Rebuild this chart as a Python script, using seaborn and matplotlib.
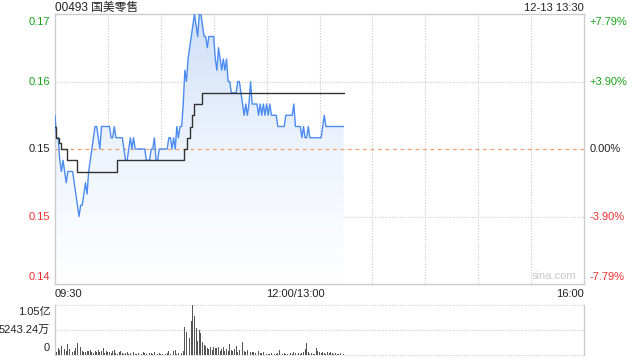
import numpy as np
import pandas as pd
import matplotlib
matplotlib.use("Agg")
import matplotlib.pyplot as plt
import matplotlib.transforms as mtransforms
from matplotlib.colors import LinearSegmentedColormap
import seaborn as sns

# ---------------- data ----------------
title = "00493 国美零售"
stamp = "12-13 13:30"
prev_close = 0.154

price = [
    0.157, 0.155, 0.155, 0.153, 0.152, 0.153, 0.152, 0.151, 0.152, 0.152,
    0.152, 0.152, 0.151, 0.150, 0.149, 0.148, 0.149, 0.149, 0.150, 0.151,
    0.150, 0.152, 0.153, 0.154, 0.155, 0.156, 0.156, 0.155, 0.154, 0.156,
    0.156, 0.156, 0.156, 0.156, 0.156, 0.155, 0.155, 0.156, 0.155, 0.155,
    0.155, 0.155, 0.155, 0.154, 0.153, 0.153, 0.154, 0.155, 0.154, 0.155,
    0.154, 0.154, 0.154, 0.154, 0.154, 0.154, 0.154, 0.153, 0.153, 0.153,
    0.154, 0.154, 0.155, 0.153, 0.153, 0.154, 0.154, 0.154, 0.154, 0.154,
    0.154, 0.155, 0.155, 0.154, 0.155, 0.154, 0.156, 0.155, 0.156, 0.156,
    0.158, 0.161, 0.160, 0.162, 0.163, 0.164, 0.165, 0.166, 0.165, 0.164,
    0.166, 0.166, 0.165, 0.164, 0.164, 0.163, 0.164, 0.164, 0.164, 0.164,
    0.162, 0.161, 0.163, 0.162, 0.161, 0.162, 0.161, 0.162, 0.160, 0.160,
    0.159, 0.159, 0.159, 0.159, 0.160, 0.160, 0.159, 0.158, 0.157, 0.158,
    0.157, 0.158, 0.160, 0.158, 0.158, 0.158, 0.158, 0.157, 0.158, 0.157,
    0.158, 0.157, 0.158, 0.157, 0.158, 0.157, 0.157, 0.157, 0.157, 0.156,
    0.156, 0.156, 0.156, 0.156, 0.157, 0.157, 0.157, 0.157, 0.157, 0.158,
    0.156, 0.156, 0.156, 0.156, 0.155, 0.156, 0.155, 0.155, 0.156, 0.155,
    0.155, 0.155, 0.155, 0.155, 0.155, 0.155, 0.155, 0.156, 0.157, 0.156,
    0.156, 0.156, 0.156, 0.156, 0.156, 0.156, 0.156, 0.156, 0.156, 0.156,
    0.156,
]

avg_price = (
    [0.156, 0.155, 0.155, 0.1545, 0.154, 0.154, 0.154, 0.154]
    + [0.153] * 6
    + [0.152] * 25
    + [0.153] * 41
    + [0.153, 0.154, 0.154, 0.155, 0.155, 0.156, 0.157, 0.158, 0.158, 0.158, 0.158, 0.158]
    + [0.159] * 89
)

# volume per minute, in 万 shares
volume = [
    2100, 700, 1500, 1100, 1800, 1000, 1200, 900, 2400, 1300,
    1400, 700, 900, 1500, 2600, 2000, 1700, 900, 600, 700,
    800, 900, 1000, 600, 500, 800, 700, 1100, 600, 900,
    1400, 500, 900, 700, 600, 500, 800, 1000, 400, 300,
    700, 900, 400, 300, 500, 600, 300, 500, 400, 600,
    300, 200, 500, 400, 300, 600, 400, 200, 300, 500,
    400, 300, 600, 200, 300, 400, 300, 200, 500, 300,
    400, 800, 300, 500, 900, 1000, 200, 400, 1100, 500,
    800, 5900, 4800, 5200, 3600, 7200, 10486, 8100, 5600, 3000,
    5300, 4600, 2800, 2100, 1800, 1500, 1200, 1600, 1000, 1700,
    1400, 1500, 1700, 900, 1300, 1700, 800, 1200, 900, 2400,
    1000, 800, 1300, 1900, 700, 1100, 1500, 2800, 900, 700,
    1000, 800, 700, 600, 700, 500, 600, 800, 500, 400,
    600, 300, 200, 300, 200, 400, 300, 200, 300, 400,
    1100, 500, 300, 400, 200, 300, 500, 400, 300, 600,
    400, 300, 500, 200, 400, 600, 1300, 2600, 700, 300,
    400, 200, 300, 1400, 800, 600, 500, 700, 400, 300,
    600, 500, 700, 400, 300, 500, 200, 300, 400, 200,
    300,
]

price_ticks = [0.166, 0.160, 0.154, 0.148, 0.142]
price_labels = ["0.17", "0.16", "0.15", "0.15", "0.14"]
pct_labels = ["+7.79%", "+3.90%", "0.00%", "-3.90%", "-7.79%"]
vol_ticks = [10486.48, 5243.24, 0]
vol_labels = ["1.05亿", "5243.24万", "0"]
time_labels = ["09:30", "12:00/13:00", "16:00"]

minutes = np.arange(len(price))
df = pd.DataFrame({"minute": minutes, "price": price, "avg": avg_price[:len(price)],
                   "volume": np.asarray(volume[:len(price)], dtype=float)})

# ---------------- style ----------------
sns.set_theme(style="white")
plt.rcParams["font.family"] = ["Liberation Sans", "Noto Sans CJK SC", "DejaVu Sans"]

W, H = 640, 360
fig = plt.figure(figsize=(W / 100, H / 100), dpi=100)
fig.patch.set_facecolor("white")

def fx(x):
    return x / W

def fy(y):
    return 1 - y / H

ax = fig.add_axes([fx(55), fy(284), fx(584) - fx(55), fy(14) - fy(284)])
axv = fig.add_axes([fx(55), fy(355), fx(584) - fx(55), fy(305) - fy(355)])

GREEN = "#1aa31a"
RED = "#f03030"
DARK = "#222222"
GRID = "#c8c8c8"
BLUE = "#4c8cf0"
colors = [GREEN, GREEN, DARK, RED, RED]

ymin, ymax = 0.142, 0.166
ax.set_xlim(0, 330)
ax.set_ylim(ymin, ymax)

# gradient fill under price
poly = ax.fill_between(df["minute"], df["price"], ymin, color="none", lw=0)
cmap = LinearSegmentedColormap.from_list("g", ["#ffffff", "#eef4fd", "#cfdff8"])
grad = np.linspace(0, 1, 256).reshape(-1, 1)
im = ax.imshow(grad, extent=[0, len(price) - 1, ymin, ymax], origin="lower",
               aspect="auto", cmap=cmap, zorder=1)
path = poly.get_paths()[0]
im.set_clip_path(path, transform=ax.transData)

# grid
for xv in np.arange(33, 330, 33):
    ax.axvline(xv, color=GRID, lw=0.8, ls=(0, (1, 1.5)), zorder=0.5)
for yv in [0.160, 0.148]:
    ax.axhline(yv, color=GRID, lw=0.8, ls=(0, (1, 1.5)), zorder=0.5)
ax.axhline(prev_close, color="#f0a070", lw=0.9, ls=(0, (3, 3)), zorder=2)

sns.lineplot(data=df, x="minute", y="price", ax=ax, color=BLUE, lw=1.0, zorder=3)
sns.lineplot(data=df, x="minute", y="avg", ax=ax, color="#333333", lw=1.0,
             drawstyle="steps-mid", zorder=3)

ax.set_xlabel("")
ax.set_ylabel("")
ax.set_xticks([])
ax.set_yticks(price_ticks)
ax.set_yticklabels([])
ax.tick_params(length=0)
for s in ax.spines.values():
    s.set_color("#cccccc")
    s.set_linewidth(1.0)

blend = mtransforms.blended_transform_factory(ax.transAxes, ax.transData)
vas = ["top", "center", "center", "center", "bottom"]
offs = [-0.0003, 0, 0, 0, 0.00015]
for v, lab, pl, c, va, o in zip(price_ticks, price_labels, pct_labels, colors, vas, offs):
    ax.text(-0.009, v + o, lab, transform=blend, ha="right", va=va, color=c, fontsize=8)
    ax.text(1.011, v + o, pl, transform=blend, ha="left", va=va, color=c, fontsize=8)

ax.text(0.985, 0.012, "sina.com", transform=ax.transAxes, ha="right", va="bottom",
        color="#c8c8c8", fontsize=8)

# header texts
fig.text(fx(55), fy(8), title, ha="left", va="center", fontsize=8.5, color="#222222")
fig.text(fx(584), fy(8), stamp, ha="right", va="center", fontsize=8, color="#222222")

# time labels
fig.text(fx(55), fy(294), time_labels[0], ha="left", va="center", fontsize=8, color="#222222")
fig.text(fx(55 + 150 * 529 / 330), fy(294), time_labels[1], ha="center", va="center",
         fontsize=8, color="#222222")
fig.text(fx(584), fy(294), time_labels[2], ha="right", va="center", fontsize=8, color="#222222")

# volume panel
sns.histplot(data=df, x="minute", weights="volume", discrete=True,
             ax=axv, color="#555555", edgecolor="none", shrink=0.55, alpha=1, zorder=3)
axv.set_xlim(0, 330)
axv.set_ylim(0, vol_ticks[0])
axv.set_xlabel("")
axv.set_ylabel("")
axv.set_xticks([])
axv.set_yticks([])
for yv in vol_ticks:
    axv.axhline(yv, color=GRID, lw=0.8, ls=(0, (1, 1.5)), zorder=0.5, clip_on=False)
for side in ["top", "bottom"]:
    axv.spines[side].set_visible(False)
for side in ["left", "right"]:
    axv.spines[side].set_color("#cccccc")
    axv.spines[side].set_linewidth(1.0)
vblend = mtransforms.blended_transform_factory(axv.transAxes, axv.transData)
for v, lab, va in zip(vol_ticks, vol_labels, ["top", "center", "bottom"]):
    off = {"top": -300, "center": 0, "bottom": 500}[va]
    axv.text(-0.009, v + off, lab, transform=vblend, ha="right", va=va, fontsize=8, color="#222222")

fig.savefig("out.png", dpi=100, facecolor="white")
